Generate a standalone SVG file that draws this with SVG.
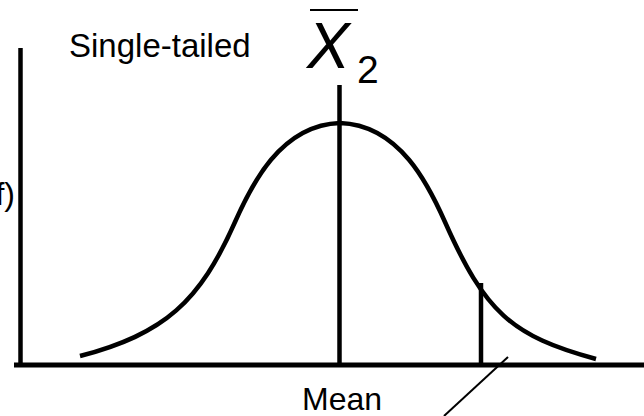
<svg xmlns="http://www.w3.org/2000/svg" width="644" height="416" viewBox="0 0 644 416">
  <style>
    .t { font-family: "Liberation Sans", Arial, sans-serif; fill: #000; }
    .ln { stroke: #000; fill: none; stroke-linecap: butt; }
  </style>
  <rect width="644" height="416" fill="#fff"/>
  <g id="axes">
    <line class="ln" x1="20.5" y1="48" x2="20.5" y2="367" stroke-width="4.5"/>
    <line class="ln" x1="14" y1="365" x2="644" y2="365" stroke-width="5"/>
  </g>
  <g id="curve">
    <path class="ln" stroke-width="4.5" stroke-linecap="round" d="M80,356 C165,334 200,301 235,222 C251,186 280,125 340,123 C400,125 429,186 445,222 C485,312 511,336 596,359"/>
  </g>
  <g id="connectors">
    <line class="ln" x1="339.5" y1="85" x2="339.5" y2="365" stroke-width="4.5"/>
    <line class="ln" x1="481" y1="283" x2="481" y2="365" stroke-width="4.5"/>
    <line class="ln" x1="508" y1="357" x2="444" y2="416" stroke-width="2"/>
    <line class="ln" x1="310" y1="10" x2="358" y2="10" stroke-width="2"/>
  </g>
  <g id="labels">
    <text class="t" x="69" y="57" font-size="33">Single-tailed</text>
    <text class="t" x="307" y="68" font-size="64" font-style="italic">X</text>
    <text class="t" x="357" y="83" font-size="39">2</text>
    <text class="t" x="342" y="410" font-size="32" text-anchor="middle">Mean</text>
    <text class="t" x="15" y="205" font-size="32" text-anchor="end">f)</text>
  </g>
</svg>
